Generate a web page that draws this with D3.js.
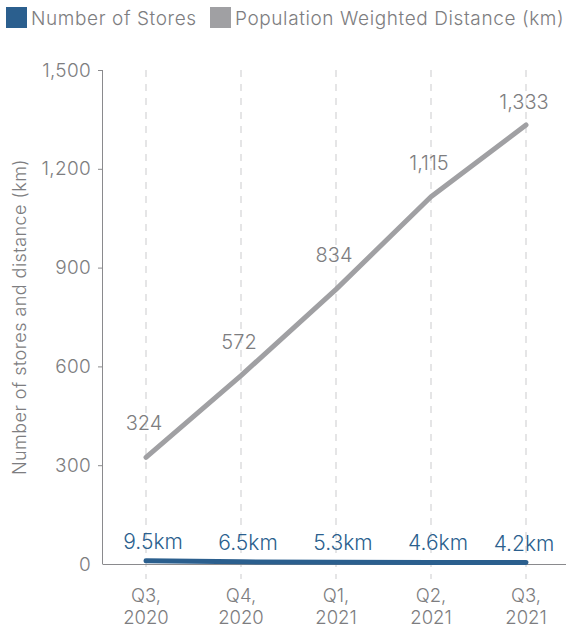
<!DOCTYPE html>
<html>
<head>
<meta charset="utf-8">
<script src="https://cdn.jsdelivr.net/npm/d3@7"></script>
<style>
  html, body { margin: 0; padding: 0; background: #ffffff; }
  svg { display: block; font-family: Inter, "Noto Sans", sans-serif; }
</style>
</head>
<body>
<svg id="chart" width="566" height="630"></svg>
<script>
// Quarters along the x axis (two-line labels)
const categories = ["Q3, 2020", "Q4, 2020", "Q1, 2021", "Q2, 2021", "Q3, 2021"];
// Store counts per quarter
const storeCounts = [324, 572, 834, 1115, 1333];
// Population weighted distance per quarter (km)
const distances = [9.5, 6.5, 5.3, 4.6, 4.2];
// Y axis ticks
const yTicks = [0, 300, 600, 900, 1200, 1500];
// Legend entries
const legendItems = [
  { label: "Number of Stores", color: "#2b5f8e" },
  { label: "Population Weighted Distance (km)", color: "#a0a0a3" }
];

const blue = "#2b5f8e";
const grey = "#a0a0a3";
const textGrey = "#7d7d80";
const font = "Inter, sans-serif";

const svg = d3.select("#chart");
const margin = { left: 103, top: 70, bottom: 564 };

const x = d3.scalePoint().domain(categories).range([146, 526]);
const y = d3.scaleLinear().domain([0, 1500]).range([margin.bottom, margin.top]);

// Dashed vertical guides at each quarter
svg.append("g")
  .selectAll("line")
  .data(categories)
  .join("line")
  .attr("x1", d => x(d)).attr("x2", d => x(d))
  .attr("y1", margin.top).attr("y2", 579)
  .attr("stroke", "#d4d4d6")
  .attr("stroke-width", 1.2)
  .attr("stroke-dasharray", "7,7");

// Y axis
const yAxis = svg.append("g")
  .attr("transform", `translate(${margin.left},0)`)
  .call(d3.axisLeft(y).tickValues(yTicks).tickFormat(d3.format(",")).tickSize(5).tickPadding(7));
yAxis.select(".domain").attr("stroke", "#8a8a8d").attr("d", `M-0.5,${margin.top}V${margin.bottom}`);
yAxis.selectAll(".tick line").attr("stroke", "#8a8a8d");
yAxis.selectAll(".tick").filter(d => d === 0).select("line").remove();
yAxis.selectAll(".tick text")
  .attr("fill", textGrey)
  .attr("font-size", 19)
  .attr("letter-spacing", 0.3)
  .attr("font-family", font)
  .attr("font-weight", 300);

// Baseline
svg.append("line")
  .attr("x1", margin.left - 0.5).attr("x2", 566)
  .attr("y1", y(0) + 0.5).attr("y2", y(0) + 0.5)
  .attr("stroke", "#8a8a8d").attr("stroke-width", 1);

// X tick labels (two lines each)
const xLabels = svg.append("g").selectAll("text")
  .data(categories)
  .join("text")
  .attr("x", d => x(d))
  .attr("text-anchor", "middle")
  .attr("fill", textGrey)
  .attr("font-size", 18.5)
  .attr("font-weight", 300);
xLabels.each(function(d) {
  const parts = d.split(" ");
  const t = d3.select(this);
  t.append("tspan").attr("x", x(d)).attr("y", 602).text(parts[0]);
  t.append("tspan").attr("x", x(d)).attr("y", 624).text(parts[1]);
});

// Y axis title
svg.append("text")
  .attr("transform", `translate(26,${(margin.top + margin.bottom) / 2}) rotate(-90)`)
  .attr("text-anchor", "middle")
  .attr("fill", textGrey)
  .attr("font-size", 18)
  .attr("letter-spacing", 0.45)
  .attr("font-weight", 300)
  .text("Number of stores and distance (km)");

// Store count line
const storeData = categories.map((c, i) => ({ c, v: storeCounts[i] }));
svg.append("path")
  .datum(storeData)
  .attr("fill", "none")
  .attr("stroke", grey)
  .attr("stroke-width", 5)
  .attr("stroke-linecap", "round")
  .attr("stroke-linejoin", "round")
  .attr("d", d3.line().x(d => x(d.c)).y(d => y(d.v)));

// Value labels above the store line; the last one sits closer to stay under the top
const lastStore = storeData.length - 1;
svg.append("g").selectAll("text")
  .data(storeData)
  .join("text")
  .attr("x", d => x(d.c) - 2)
  .attr("y", (d, i) => y(d.v) - (i === lastStore ? 16 : 27))
  .attr("text-anchor", "middle")
  .attr("fill", textGrey)
  .attr("font-size", 20)
  .attr("font-weight", 300)
  .text(d => d3.format(",")(d.v));

// Distance line
const distData = categories.map((c, i) => ({ c, v: distances[i] }));
svg.append("path")
  .datum(distData)
  .attr("fill", "none")
  .attr("stroke", blue)
  .attr("stroke-width", 5)
  .attr("stroke-linecap", "round")
  .attr("stroke-linejoin", "round")
  .attr("d", d3.line().x(d => x(d.c)).y(d => y(d.v)));

// Distance labels sit slightly right of each point; the last is pulled in from the edge
const lastDist = distData.length - 1;
svg.append("g").selectAll("text")
  .data(distData)
  .join("text")
  .attr("x", (d, i) => x(d.c) + (i === lastDist ? -2 : 7))
  .attr("y", d => y(d.v) - 12)
  .attr("text-anchor", "middle")
  .attr("fill", blue)
  .attr("font-size", 21)
  .attr("font-weight", 300)
  .text(d => d.v.toFixed(1) + "km");

// Legend
const legend = svg.append("g");
const legendX = [6, 210];
legendItems.forEach((item, i) => {
  legend.append("rect")
    .attr("x", legendX[i]).attr("y", 7)
    .attr("width", 21).attr("height", 21)
    .attr("fill", item.color);
  legend.append("text")
    .attr("x", legendX[i] + 25).attr("y", 25)
    .attr("fill", textGrey)
    .attr("font-size", 19)
    .attr("letter-spacing", 0.6)
    .attr("font-weight", 300)
    .text(item.label);
});
</script>
</body>
</html>
